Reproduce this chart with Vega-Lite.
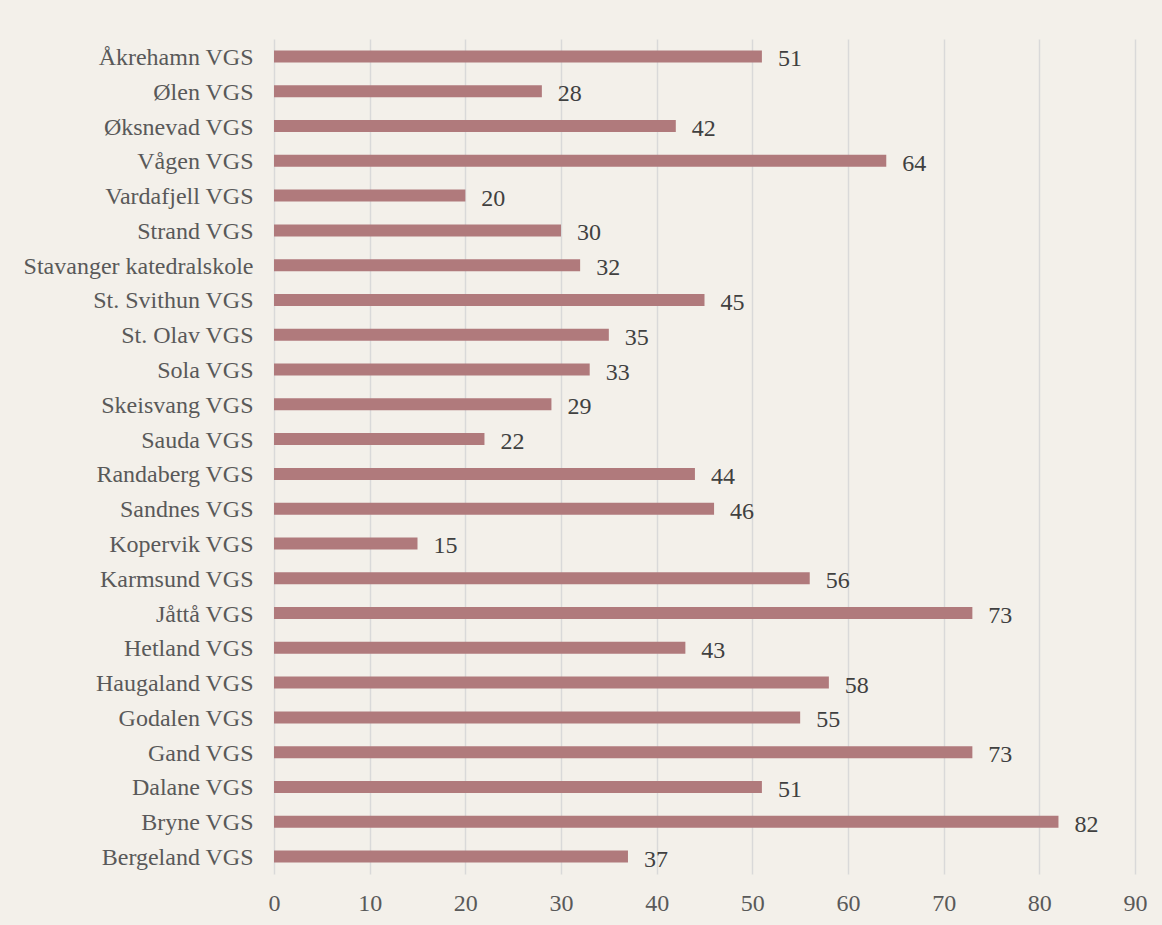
{
  "$schema": "https://vega.github.io/schema/vega-lite/v6.json",
  "width": 861,
  "height": 835,
  "autosize": {"type": "none"},
  "padding": {"left": 274, "top": 39, "right": 27, "bottom": 51},
  "background": "#f3f0ea",
  "config": {
    "view": {"stroke": null},
    "font": "Liberation Serif"
  },
  "data": {
    "values": [
      {"school": "Åkrehamn VGS", "value": 51},
      {"school": "Ølen VGS", "value": 28},
      {"school": "Øksnevad VGS", "value": 42},
      {"school": "Vågen VGS", "value": 64},
      {"school": "Vardafjell VGS", "value": 20},
      {"school": "Strand VGS", "value": 30},
      {"school": "Stavanger katedralskole", "value": 32},
      {"school": "St. Svithun VGS", "value": 45},
      {"school": "St. Olav VGS", "value": 35},
      {"school": "Sola VGS", "value": 33},
      {"school": "Skeisvang VGS", "value": 29},
      {"school": "Sauda VGS", "value": 22},
      {"school": "Randaberg VGS", "value": 44},
      {"school": "Sandnes VGS", "value": 46},
      {"school": "Kopervik VGS", "value": 15},
      {"school": "Karmsund VGS", "value": 56},
      {"school": "Jåttå VGS", "value": 73},
      {"school": "Hetland VGS", "value": 43},
      {"school": "Haugaland VGS", "value": 58},
      {"school": "Godalen VGS", "value": 55},
      {"school": "Gand VGS", "value": 73},
      {"school": "Dalane VGS", "value": 51},
      {"school": "Bryne VGS", "value": 82},
      {"school": "Bergeland VGS", "value": 37}
    ]
  },
  "encoding": {
    "y": {
      "field": "school",
      "type": "nominal",
      "sort": null,
      "scale": {"paddingInner": 0.655, "paddingOuter": 0.33},
      "axis": {
        "title": null,
        "labelFont": "Liberation Serif",
        "labelFontSize": 24,
        "labelColor": "#595959",
        "labelPadding": 21,
        "labelLimit": 0,
        "labelBaseline": "middle",
        "labelOffset": 1.5,
        "ticks": false,
        "domain": false,
        "grid": false
      }
    },
    "x": {
      "field": "value",
      "type": "quantitative",
      "scale": {"domain": [0, 90], "nice": false},
      "axis": {
        "title": null,
        "values": [0, 10, 20, 30, 40, 50, 60, 70, 80, 90],
        "labelFont": "Liberation Serif",
        "labelFontSize": 24,
        "labelColor": "#595959",
        "labelPadding": 17,
        "labelFlush": false,
        "ticks": false,
        "domain": false,
        "grid": true,
        "gridColor": "#d9d9d9",
        "gridWidth": 1.5
      }
    }
  },
  "layer": [
    {
      "mark": {"type": "bar", "color": "#b07a7c"}
    },
    {
      "mark": {
        "type": "text",
        "align": "left",
        "baseline": "middle",
        "dx": 16,
        "dy": 3,
        "fontSize": 24,
        "font": "Liberation Serif",
        "color": "#404040"
      },
      "encoding": {"text": {"field": "value", "type": "quantitative"}}
    }
  ]
}
